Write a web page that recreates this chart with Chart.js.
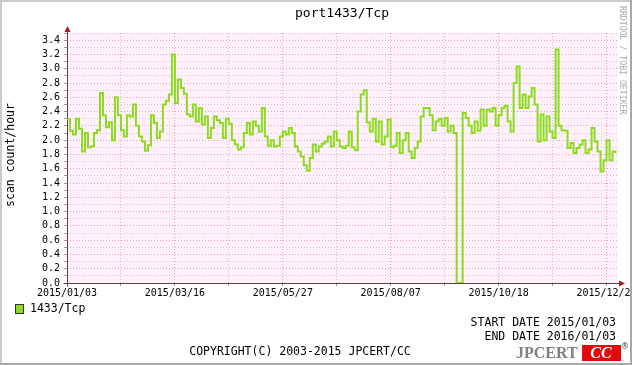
<!DOCTYPE html>
<html>
<head>
<meta charset="utf-8">
<title>port1433/Tcp</title>
<script src="https://cdn.jsdelivr.net/npm/chart.js@4.4.0/dist/chart.umd.min.js"></script>
<style>
    html, body { margin: 0; padding: 0; background: #fff; }
    canvas { display: block; }
</style>
</head>
<body>
<canvas id="portChart" width="632" height="365"></canvas>
<script>
// labels on the time axis, one every 72 days
var tickLabels = ['2015/01/03', '2015/03/16', '2015/05/27', '2015/08/07', '2015/10/18', '2015/12/29'];
var seriesName = '1433/Tcp';
var startDate = '2015/01/03';
var endDate = '2016/01/03';

// one sample every 2 days starting 2015/01/03 (scan count/hour)
var dayStep = 2;
var scanCounts = [
    2.29, 2.13, 2.08, 2.30, 2.16, 1.84, 2.10, 1.90, 1.91, 2.10,
    2.14, 2.66, 2.35, 2.18, 2.25, 2.00, 2.60, 2.35, 2.14, 2.05,
    2.35, 2.33, 2.50, 2.20, 2.05, 1.98, 1.85, 1.93, 2.35, 2.24,
    2.03, 2.12, 2.50, 2.55, 2.64, 3.20, 2.52, 2.85, 2.73, 2.65,
    2.36, 2.33, 2.50, 2.26, 2.45, 2.22, 2.33, 2.03, 2.17, 2.33,
    2.28, 2.24, 2.03, 2.30, 2.23, 2.00, 1.94, 1.87, 1.90, 2.10,
    2.24, 2.08, 2.26, 2.20, 2.12, 2.45, 2.05, 1.92, 2.00, 1.91,
    1.92, 2.05, 2.12, 2.08, 2.17, 2.10, 1.91, 1.84, 1.77, 1.65,
    1.57, 1.75, 1.94, 1.84, 1.91, 1.95, 1.98, 2.05, 1.91, 2.12,
    2.00, 1.91, 1.89, 1.92, 2.12, 1.90, 1.86, 2.40, 2.64, 2.70,
    2.25, 2.12, 2.30, 1.98, 2.26, 1.94, 2.05, 2.29, 1.90, 1.92,
    2.10, 1.82, 2.00, 2.10, 1.84, 1.75, 1.89, 1.98, 2.33, 2.45,
    2.45, 2.35, 2.14, 2.26, 2.30, 2.20, 2.31, 2.12, 2.20, 2.10,
    0.00, 0.00, 2.38, 2.31, 2.20, 2.10, 2.26, 2.13, 2.43, 2.20,
    2.43, 2.40, 2.45, 2.20, 2.35, 2.45, 2.48, 2.26, 2.12, 2.80,
    3.03, 2.45, 2.64, 2.45, 2.61, 2.73, 2.50, 1.98, 2.36, 2.00,
    2.33, 2.12, 2.03, 3.27, 2.20, 2.14, 2.13, 1.89, 1.96, 1.82,
    1.89, 1.94, 2.00, 1.82, 1.87, 2.17, 1.98, 1.84, 1.56, 1.72,
    2.00, 1.72, 1.84, 1.82
];

var lineGreen = '#8cdc1e';
var majorGrid = '#e8a2b6';
var minorGrid = '#dcc0d0';
var axisColor = '#5a4040';
var arrowColor = '#a81818';
var mono = '"DejaVu Sans Mono", monospace';

var points = scanCounts.map(function (v, i) {
    return {x: i * dayStep, y: v};
});

// background, frame, axis arrows and the rrdtool style texts
var rrdDecor = {
    id: 'rrdDecor',
    beforeDraw: function (chart) {
        var ctx = chart.ctx, a = chart.chartArea;
        ctx.save();
        ctx.fillStyle = '#ffffff';
        ctx.fillRect(0, 0, chart.width, chart.height);
        ctx.fillStyle = '#fff0fc';
        ctx.fillRect(a.left, a.top, a.right - a.left, a.bottom - a.top);
        ctx.restore();
    },
    beforeDatasetsDraw: function (chart) {
        var ctx = chart.ctx, a = chart.chartArea;
        var x0 = Math.round(chart.scales.x.getPixelForValue(0)) + 0.5;
        var y0 = Math.round(chart.scales.y.getPixelForValue(0)) + 0.5;
        ctx.save();
        ctx.strokeStyle = axisColor;
        ctx.lineWidth = 1;
        ctx.beginPath();
        ctx.moveTo(x0, y0 + 3);
        ctx.lineTo(x0, a.top - 2);
        ctx.moveTo(x0 - 4, y0);
        ctx.lineTo(a.right + 3, y0);
        ctx.stroke();
        ctx.fillStyle = arrowColor;
        ctx.beginPath();
        ctx.moveTo(x0, a.top - 7);
        ctx.lineTo(x0 - 3, a.top - 1);
        ctx.lineTo(x0 + 3, a.top - 1);
        ctx.closePath();
        ctx.fill();
        ctx.beginPath();
        ctx.moveTo(a.right + 8, y0);
        ctx.lineTo(a.right + 2, y0 - 3);
        ctx.lineTo(a.right + 2, y0 + 3);
        ctx.closePath();
        ctx.fill();
        ctx.restore();
    },
    afterDraw: function (chart) {
        var ctx = chart.ctx;
        ctx.save();
        ctx.fillStyle = '#000';
        ctx.textBaseline = 'middle';

        // title
        ctx.font = '13px ' + mono;
        ctx.textAlign = 'center';
        ctx.fillText('port1433/Tcp', 342, 14);

        // vertical axis title
        ctx.save();
        ctx.translate(11, 155);
        ctx.rotate(-Math.PI / 2);
        ctx.font = '11.5px ' + mono;
        ctx.fillText('scan count/hour', 0, 0);
        ctx.restore();

        // watermark
        ctx.save();
        ctx.translate(622, 6);
        ctx.rotate(Math.PI / 2);
        ctx.font = '8.2px ' + mono;
        ctx.fillStyle = '#a8a8a8';
        ctx.textAlign = 'left';
        ctx.fillText('RRDTOOL / TOBI OETIKER', 0, 0);
        ctx.restore();

        // legend
        ctx.fillStyle = lineGreen;
        ctx.fillRect(15.5, 304.5, 8, 9);
        ctx.strokeStyle = '#333';
        ctx.lineWidth = 1;
        ctx.strokeRect(15.5, 304.5, 8, 9);
        ctx.fillStyle = '#000';
        ctx.font = '11.5px ' + mono;
        ctx.textAlign = 'left';
        ctx.fillText(seriesName, 30, 309);

        ctx.textAlign = 'right';
        ctx.fillText('START DATE ' + startDate, 616, 323);
        ctx.fillText('END DATE ' + endDate, 616, 337);
        ctx.textAlign = 'center';
        ctx.fillText('COPYRIGHT(C) 2003-2015 JPCERT/CC', 300, 352);

        // JPCERT/CC mark
        ctx.textAlign = 'left';
        ctx.font = 'bold 16px "Liberation Serif", serif';
        ctx.fillStyle = '#808080';
        ctx.fillText('JPCERT', 516, 354);
        ctx.fillStyle = '#e00a0a';
        ctx.fillRect(582, 345, 39, 16);
        ctx.fillStyle = '#ffffff';
        ctx.textAlign = 'center';
        ctx.font = 'bold italic 16px "Liberation Serif", serif';
        ctx.fillText('CC', 601, 354);
        ctx.fillStyle = '#444';
        ctx.font = '8px "DejaVu Sans", sans-serif';
        ctx.fillText('\u00AE', 625, 347);

        // shaded frame, on top so the last tick label is cut like the original
        ctx.fillStyle = '#cbcbcb';
        ctx.fillRect(0, 0, chart.width, 2);
        ctx.fillRect(0, 0, 2, chart.height);
        ctx.fillStyle = '#a8a8a8';
        ctx.fillRect(0, chart.height - 2, chart.width, 2);
        ctx.fillRect(chart.width - 2, 0, 2, chart.height);
        ctx.restore();
    }
};

var ctxP = document.getElementById('portChart').getContext('2d');
var portChart = new Chart(ctxP, {
    type: 'line',
    data: {
        datasets: [{
            label: seriesName,
            data: points,
            borderColor: lineGreen,
            borderWidth: 2,
            stepped: true,
            pointRadius: 0,
            fill: false
        }]
    },
    options: {
        responsive: false,
        animation: false,
        devicePixelRatio: 1,
        layout: {padding: {top: 33, right: 15, left: 0, bottom: 0}},
        plugins: {
            legend: {display: false},
            tooltip: {enabled: false}
        },
        scales: {
            x: {
                type: 'linear',
                min: 0,
                max: 367,
                afterFit: function (scale) {
                    scale.height = 82;
                    scale.paddingLeft = 0;
                    scale.paddingRight = 0;
                },
                ticks: {
                    stepSize: 36,
                    includeBounds: false,
                    autoSkip: false,
                    maxRotation: 0,
                    minRotation: 0,
                    padding: 1,
                    color: '#000',
                    font: {family: 'DejaVu Sans Mono', size: 10},
                    callback: function (value) {
                        return value % 72 === 0 ? tickLabels[value / 72] : '';
                    }
                },
                grid: {
                    color: function (c) {
                        if (!c.tick) return minorGrid;
                        return c.tick.value % 72 === 0 ? majorGrid : minorGrid;
                    },
                    tickColor: '#b09090',
                    tickLength: 3,
                    lineWidth: 1
                },
                border: {display: false, dash: [1, 2]}
            },
            y: {
                min: 0,
                max: 3.5,
                afterFit: function (scale) {
                    scale.width = 67;
                    scale.paddingTop = 0;
                    scale.paddingBottom = 0;
                },
                ticks: {
                    stepSize: 0.1,
                    autoSkip: false,
                    padding: 4,
                    color: '#000',
                    font: {family: 'DejaVu Sans Mono', size: 10},
                    callback: function (value) {
                        var t = Math.round(value * 10);
                        return (t % 2 === 0 && t < 35) ? (t / 10).toFixed(1) : '';
                    }
                },
                grid: {
                    color: function (c) {
                        if (!c.tick) return minorGrid;
                        return Math.round(c.tick.value * 10) % 2 === 0 ? majorGrid : minorGrid;
                    },
                    tickColor: '#b09090',
                    tickLength: 3,
                    lineWidth: 1
                },
                border: {display: false, dash: [1, 2]}
            }
        }
    },
    plugins: [rrdDecor]
});
</script>
</body>
</html>
